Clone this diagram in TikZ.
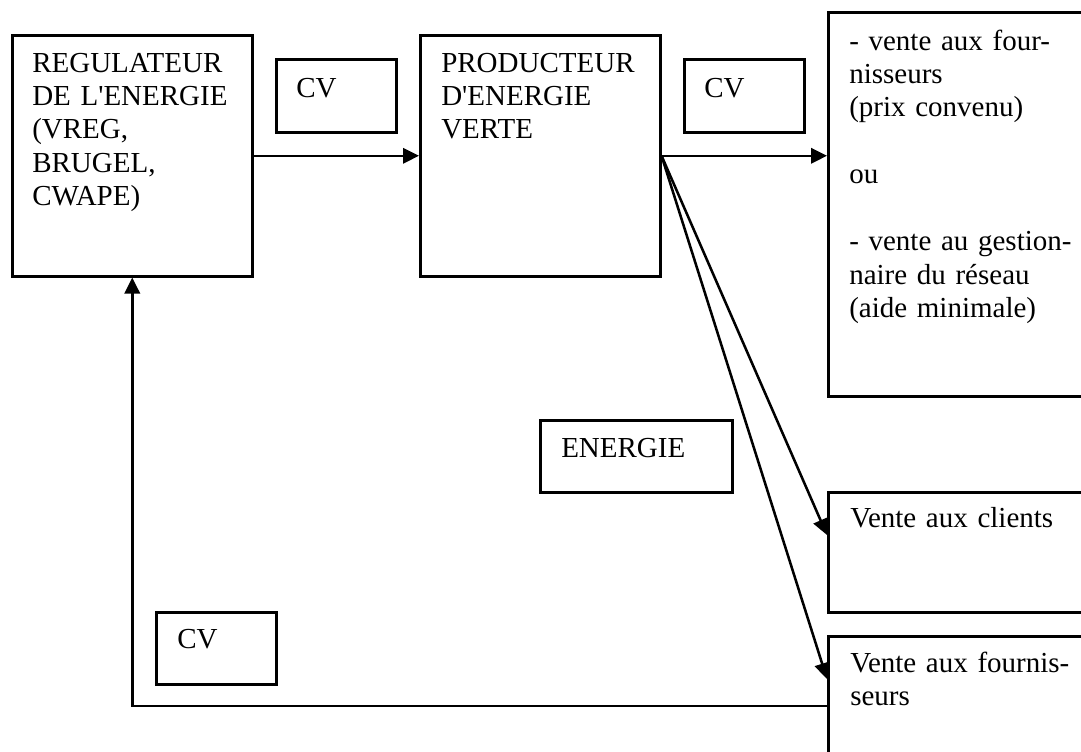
\documentclass[tikz,border=0pt]{standalone}
\usepackage{fontspec}
\setmainfont{Liberation Serif}
\usetikzlibrary{arrows.meta, positioning}

\begin{document}
\begin{tikzpicture}[x=0.75pt, y=-0.75pt, line width=1.9pt, >={Triangle[length=12pt,width=11.5pt]},
	boite/.style={rectangle, draw, anchor=north west, inner sep=0pt},
	texte/.style={anchor=base west, inner sep=0pt, text width=230pt, align=left, font=\fontsize{21.75}{25.1}\selectfont}]
		\clip (0,0) rectangle (1081,751);
		% boites
		\node[boite, minimum width=180pt, minimum height=180.75pt	] (REGULATEUR) 		at (11,34) 	{};
		\node[boite, minimum width=90pt, minimum height=54.75pt		] (CV_A) 			at (275,58) {};
		\node[boite, minimum width=180pt, minimum height=180.75pt	] (PRODUCTEUR) 		at (419,34) {};
		\node[boite, minimum width=90pt, minimum height=54.75pt		] (CV_B) 			at (683,58) {};
		\node[boite, minimum width=213pt, minimum height=288pt		] (VENTE_OFFRE) 	at (827,11) {};
		\node[boite, minimum width=144pt, minimum height=54pt		] (ENERGIE) 		at (539,419) {};
		\node[boite, minimum width=213pt, minimum height=90pt		] (VENTE_CLIENTS) 	at (827,491) {};
		\node[boite, minimum width=213pt, minimum height=108.75pt	] (VENTE_FOURN) 	at (827,635) {};
		\node[boite, minimum width=90pt, minimum height=54pt		] (CV_C) 			at (155,611) {};

		% textes
		\node[texte] (REGULATEUR_T) 	at (31,72) 	{REGULATEUR\\DE L\textquotesingle ENERGIE\\(VREG,\\BRUGEL,\\CWAPE)};
		\node[texte] (CV_A_T) 			at (295,97) {CV};
		\node[texte] (PRODUCTEUR_T) 	at (440,72) {PRODUCTEUR\\D\textquotesingle ENERGIE\\VERTE};
		\node[texte] (CV_B_T) 			at (703,97) {CV};
		\node[texte] (VENTE_OFFRE_T) 	at (848,50) {- vente aux four-\\nisseurs\\(prix convenu)\\\mbox{}\\ou\\\mbox{}\\- vente au gestion-\\naire du réseau\\(aide minimale)};
		\node[texte] (ENERGIE_T) 		at (560,457) {ENERGIE};
		\node[texte] (VENTE_CLIENTS_T) 	at (849,527) {Vente aux clients};
		\node[texte] (VENTE_FOURN_T) 	at (849,672) {Vente aux fournis-\\seurs};
		\node[texte] (CV_C_T) 			at (176,648) {CV};

		\coordinate (CLIENTS_IN) 	at ([yshift=-33pt]VENTE_CLIENTS.north west);
		\coordinate (FOURN_IN) 		at ([yshift=-33pt]VENTE_FOURN.north west);
		\coordinate (RETOUR) 		at ([yshift=-53.25pt]VENTE_FOURN.north west);

		\draw[->] (REGULATEUR) -- (PRODUCTEUR);
		\draw[->] (PRODUCTEUR.east) -- (PRODUCTEUR.east -| VENTE_OFFRE.west);
		\draw[->] (PRODUCTEUR.east) -- (CLIENTS_IN);
		\draw[->] (PRODUCTEUR.east) -- (FOURN_IN);
		\draw[->] (RETOUR) -| (REGULATEUR.south);
\end{tikzpicture}
\end{document}
